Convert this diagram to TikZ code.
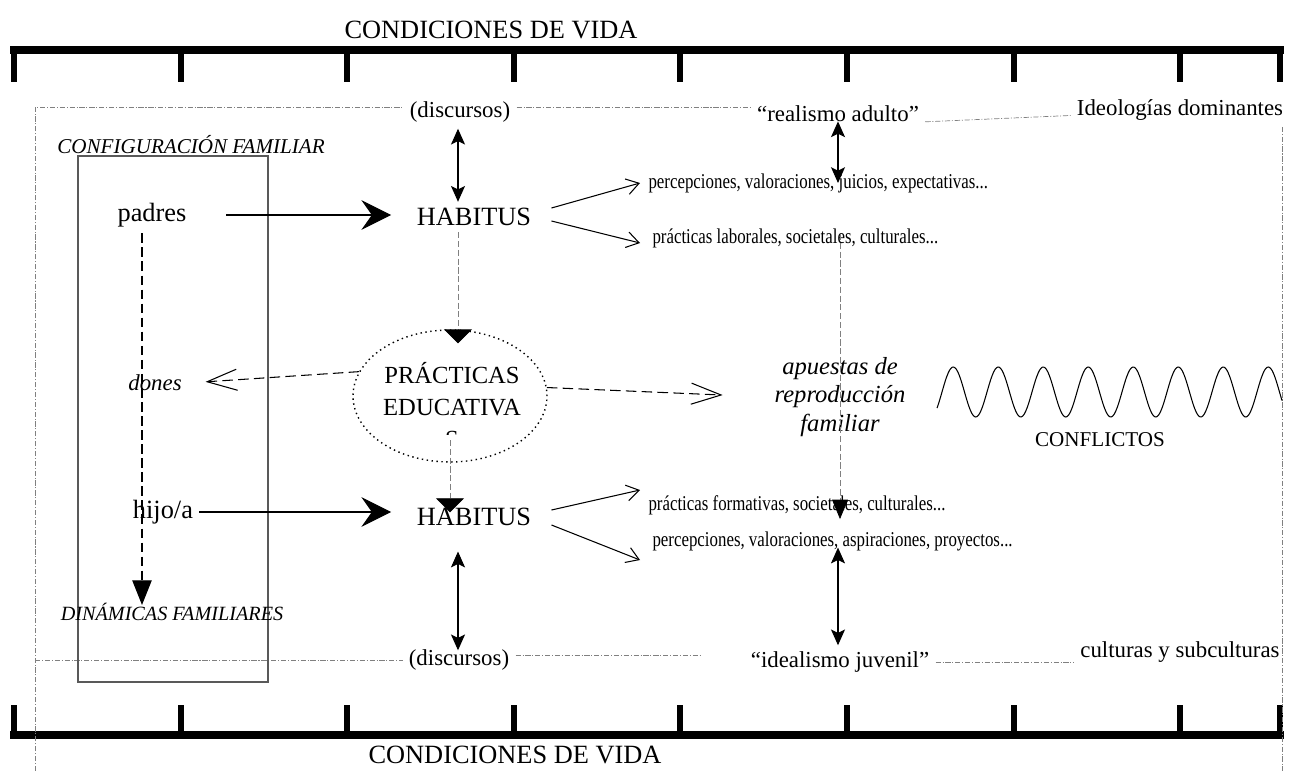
\documentclass[tikz,border=0pt]{standalone}
\usepackage{fontspec}
\setmainfont{Liberation Serif}
\newfontfamily\narrowfont[FakeStretch=0.8]{Liberation Serif}
\usetikzlibrary{arrows.meta, shapes.geometric, calc}

\begin{document}
\begin{tikzpicture}[x=0.02cm, y=-0.02cm, line width=0.6pt,
    txt/.style = {font=\fontsize{15}{18}\selectfont},
    mid/.style = {font=\fontsize{13}{16}\selectfont},
    sml/.style = {font=\narrowfont\fontsize{12}{14}\selectfont, anchor=west, inner sep=0pt},
    ital/.style = {font=\fontsize{12}{14}\selectfont\itshape},
    bar/.style = {line width=4.5pt},
    tick/.style = {line width=3.5pt},
    frame/.style = {gray, line width=0.4pt, dash pattern=on 3pt off 1pt on 0.6pt off 1pt},
    dbl/.style = {{Stealth[length=9pt,width=8pt,inset=2pt]}-{Stealth[length=9pt,width=8pt,inset=2pt]}},
    big/.style = {-{Stealth[length=17pt,width=17pt,inset=6pt]}},
    opn/.style = {-{Straight Barb[length=7pt,width=9pt]}},
    dsh/.style = {dash pattern=on 6pt off 3pt, -{Straight Barb[length=17pt,width=12pt]}},
    gdsh/.style = {gray, line width=0.5pt, dash pattern=on 3.5pt off 1.5pt}]
  \useasboundingbox (0,0) rectangle (1289,771);

  % condiciones de vida
  \node[txt] at (491,30) (cv1) {CONDICIONES DE VIDA};
  \node[txt] at (515,755) (cv2) {CONDICIONES DE VIDA};
  \draw[bar] (10,50) -- (1284,50);
  \draw[bar] (10,735) -- (1284,735);
  \foreach \i in {0,...,7} {
    \draw[tick] ({14+166.6*\i},50) -- ++(0,32);
    \draw[tick] ({14+166.6*\i},735) -- ++(0,-30);
  }
  \draw[tick] (1280,50) -- ++(0,32);
  \draw[tick] (1280,735) -- ++(0,-30);

  \coordinate (ftl) at (35,107);
  \coordinate (fbl) at (35,771);
  \coordinate (fbr) at (1282,771);
  \coordinate (fb1) at (700,655);
  \coordinate (c142) at (142,0);
  \coordinate (c458) at (458,0);
  \coordinate (c450) at (450,440);
  \coordinate (c838) at (838,0);
  \coordinate (c840) at (840,0);
  \coordinate (dtip) at (142,605);

  \node[mid] at (460,112) (disc1) {(discursos)};
  \node[mid] at (838,114) (real) {“realismo adulto”};
  \node[mid] at (1180,110) (ideo) {Ideologías dominantes};
  \node[mid] at (459,660) (disc2) {(discursos)};
  \node[mid] at (840,662) (ideal) {“idealismo juvenil”};
  \node[mid] at (1180,652) (cult) {culturas y subculturas};

  \draw[frame] (fbl) -- (ftl) -- (ftl -| disc1.west);
  \draw[frame] (ftl -| disc1.east) -- (ftl -| real.west);
  \draw[frame] (real.base east) -- (ideo.base west);
  \draw[frame] (ideo.south east -| fbr) -- (fbr);
  \draw[frame] (fbl |- disc2.west) -- (disc2.west);
  \draw[frame] (disc2.east |- fb1) -- (fb1);
  \draw[frame] (ideal.east) -- (ideal.east -| cult.west);

  % configuracion familiar
  \node[ital] at (191,145) (conf) {CONFIGURACIÓN FAMILIAR};
  \draw[gray!70!black] (78,156) rectangle (268,682);
  \node[txt] at (152,215) (padres) {padres};
  \node[txt] at (163,512) (hijo) {hijo/a};
  \node[ital, font=\fontsize{11.5}{14}\selectfont\itshape] at (172,612) (din) {DINÁMICAS FAMILIARES};
  \node[txt, font=\fontsize{13}{16}\selectfont\itshape] at (155,383) (dones) {dones};

  \node[txt] at (474,217) (hab1) {HABITUS};
  \node[txt] at (474,517) (hab2) {HABITUS};

  \draw[big, shorten <=19pt, shorten >=11pt] (padres.east) -- (hab1.west |- padres.east);
  \draw[big, shorten >=11pt] (hijo.east) -- (hab2.west |- hijo.east);
  \draw[dash pattern=on 5.5pt off 2.5pt, -{Triangle[length=14pt,width=11pt]}] (padres.south -| c142) -- (dtip);

  \node[sml] at (648,183) (perc1) {percepciones, valoraciones, juicios, expectativas...};
  \node[sml] at (652,238) (lab1) {prácticas laborales, societales, culturales...};
  \node[sml] at (648,505) (form2) {prácticas formativas, societales, culturales...};
  \node[sml] at (652,541) (perc2) {percepciones, valoraciones, aspiraciones, proyectos...};

  \draw[opn] ([shift={(14,-9)}]hab1.east) -- ([shift={(-8,0)}]perc1.west);
  \draw[opn] ([shift={(14,4)}]hab1.east) -- ([shift={(-12,5)}]lab1.west);
  \draw[opn] ([shift={(14,-7)}]hab2.east) -- ([shift={(-8,-15)}]form2.west);
  \draw[opn] ([shift={(14,8)}]hab2.east) -- ([shift={(-12,19)}]perc2.west);

  \draw[dbl] (disc1.south -| c458) -- (hab1.north -| c458);
  \draw[dbl, shorten <=11pt, shorten >=-4pt] (hab2.south -| c458) -- (disc2.north -| c458);
  \draw[dbl, shorten <=-4pt] (real.south -| c838) -- (perc1.center -| c838);
  \draw[dbl, shorten <=-2pt] (perc2.south -| c838) -- (ideal.north -| c838);

  % practicas educativas
  \node[draw, ellipse, dotted, line width=0.8pt, minimum width=3.88cm, minimum height=2.64cm] at (450,396) (ell) {};
  \begin{scope}
    \clip (340,330) rectangle (560,434);
    \node[align=center, font=\fontsize{14}{18.2}\selectfont] at (452,405) (pr) {PRÁCTICAS\\EDUCATIVA\\S};
  \end{scope}
  \draw[gdsh, -{Triangle[length=8pt,width=16pt,black]}, shorten >=-8pt] (hab1.south -| c458) -- (ell.north -| c458);
  \draw[gdsh, -{Triangle[length=8pt,width=16pt,black]}, shorten >=-6pt] (c450) -- (hab2.north -| c450);

  \node[align=center, font=\fontsize{14}{16.2}\selectfont\itshape] at (840,397) (apu) {apuestas de\\reproducción\\familiar};
  \draw[dsh, shorten >=10pt] (ell.165) -- (dones.east);
  \draw[dsh, shorten >=26pt] (ell.5) -- (apu.west);
  \draw[gdsh, line width=0.4pt, -{Triangle[length=11pt,width=9pt,black]}, shorten >=-8pt] ([yshift=8]lab1.south -| c840) -- (form2.center -| c840);

  % conflictos
  \draw[domain=937:1282, samples=250, smooth] plot (\x, {392-25*sin(8*(\x-942))});
  \node[font=\fontsize{12}{14}\selectfont] at (1100,440) (conf2) {CONFLICTOS};
\end{tikzpicture}
\end{document}
